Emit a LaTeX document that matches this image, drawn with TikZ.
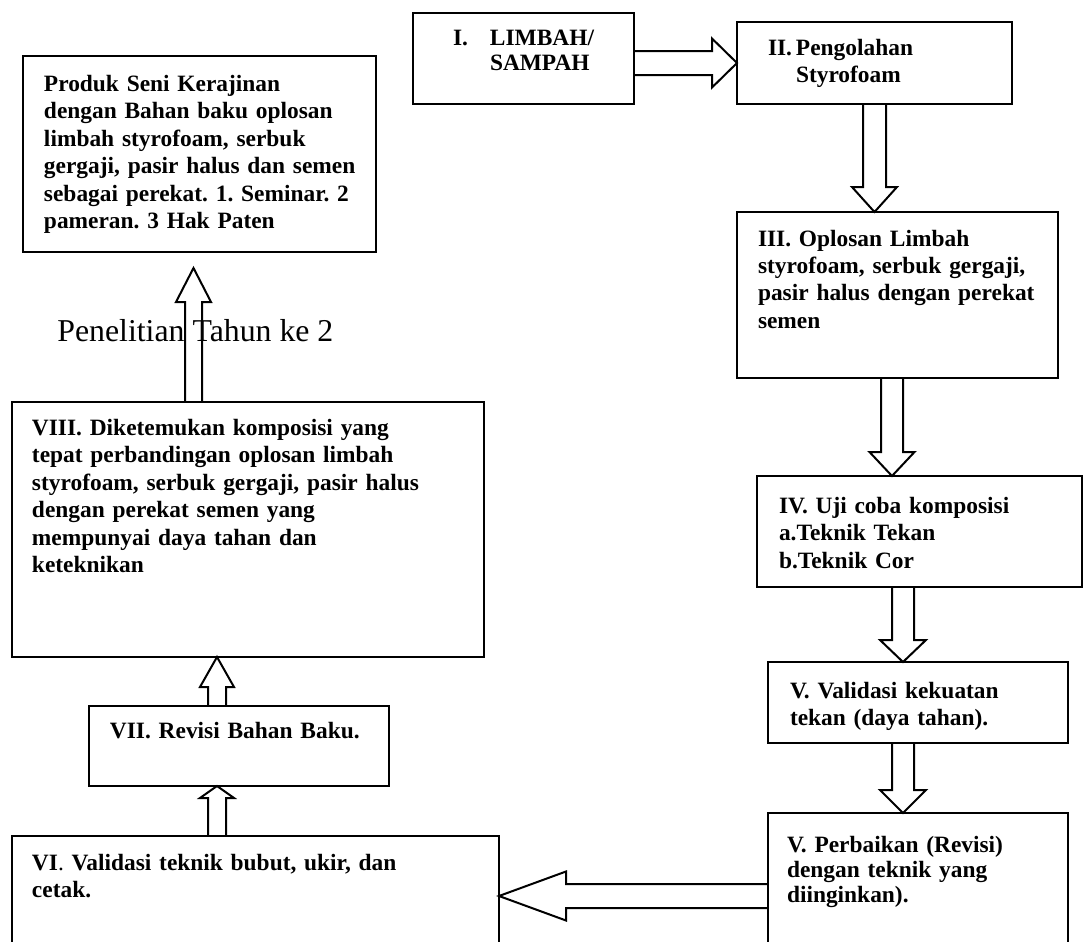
\documentclass[tikz,border=0pt]{standalone}
\usepackage{fontspec}
\setmainfont{Liberation Serif}
\usetikzlibrary{calc}

\newcommand{\hollowarrow}[5]{%
	\draw[myarrow] let \p1=#4, \p2=#5,
		\n1={veclen(\x2-\x1,\y2-\y1)}, \n2={atan2(\y2-\y1,\x2-\x1)} in
		[shift={(\p1)}, rotate=\n2]
		(0pt,{-#1/4*1pt}) -- ({(\n1-#3/2)*1pt},{-#1/4*1pt}) -- ({(\n1-#3/2)*1pt},{-#2/4*1pt})
		-- ({\n1*1pt},0pt) -- ({(\n1-#3/2)*1pt},{#2/4*1pt}) -- ({(\n1-#3/2)*1pt},{#1/4*1pt})
		-- (0pt,{#1/4*1pt});
}

\begin{document}
\begin{tikzpicture}[x=0.5pt, y=-0.5pt,
			mybox/.style={draw, line width=1pt, anchor=north west, inner ysep=0pt, outer sep=0pt, align=left,
				font=\fontsize{11.7pt}{13.75pt}\selectfont\bfseries\frenchspacing},
			myarrow/.style={line width=1pt, line join=miter}
		]
		\useasboundingbox (0,0) rectangle (1084,942);
		\clip (0,0) rectangle (1084,942);

		\node[mybox, inner xsep=20pt, text width=70.5pt, text height=16.5pt, text depth=29pt] (limbah) at (413,13)
			{\makebox[18.5pt][l]{I.}LIMBAH/\\[-1.25pt]\hspace*{18.5pt}SAMPAH};
		\node[mybox, inner xsep=15.5pt, text width=106.5pt, text height=16.5pt, text depth=24.5pt] (olah) at (737,22)
			{\makebox[14pt][l]{II.}Pengolahan\\\hspace*{14pt}Styrofoam};
		\node[mybox, inner xsep=10.5pt, text width=139.5pt, text height=17pt, text depth=66pt] (oplos) at (737,212)
			{III. Oplosan Limbah\\styrofoam, serbuk gergaji,\\pasir halus dengan perekat\\semen};
		\node[mybox, inner xsep=11pt, text width=140.5pt, text height=18.5pt, text depth=37pt] (uji) at (757,476)
			{IV. Uji coba komposisi\\a.Teknik Tekan\\b.Teknik Cor};
		\node[mybox, inner xsep=11pt, text width=128pt, text height=18pt, text depth=22.5pt] (validasi) at (768,662)
			{V. Validasi kekuatan\\tekan (daya tahan).};
		\node[mybox, inner xsep=9.5pt, text width=131pt, text height=19.5pt, text depth=80.5pt,
			font=\fontsize{11.7pt}{12.5pt}\selectfont\bfseries\frenchspacing] (perbaikan) at (768,813)
			{V. Perbaikan (Revisi)\\dengan teknik yang\\diinginkan).};
		\node[mybox, inner xsep=10pt, text width=223.5pt, text height=17pt, text depth=83pt] (bubut) at (12,836)
			{VI{\mdseries .} Validasi teknik bubut, ukir, dan\\cetak.};
		\node[mybox, inner xsep=10.5pt, text width=129pt, text height=16pt, text depth=24pt] (revisi) at (89,706)
			{VII. Revisi Bahan Baku.};
		\node[mybox, inner xsep=10pt, text width=216pt, text height=16.5pt, text depth=111pt] (temuan) at (12,402)
			{VIII. Diketemukan komposisi yang\\tepat perbandingan oplosan limbah\\styrofoam, serbuk gergaji, pasir halus\\dengan perekat semen yang\\mempunyai daya tahan dan\\keteknikan};
		\node[mybox, inner xsep=10.5pt, text width=155.5pt, text height=17.5pt, text depth=80.5pt] (produk) at (23,56)
			{Produk Seni Kerajinan\\dengan Bahan baku oplosan\\limbah styrofoam, serbuk\\\mbox{gergaji, pasir halus dan semen}\\\mbox{sebagai perekat. 1. Seminar. 2}\\pameran. 3 Hak Paten};

		\node[anchor=base west, inner sep=0pt, font=\fontsize{15.9pt}{18pt}\selectfont] (tahun) at (57,341) {Penelitian Tahun ke 2};

		\hollowarrow{24}{49}{25}{($(limbah.east)+(0,4.5)$)}{(olah.west)}
		\hollowarrow{23}{45}{25}{(olah.south)}{(olah.south |- oplos.north)}
		\hollowarrow{22}{45}{24}{($(oplos.south)+(-5.5,0)$)}{($(uji.north)+(-27.5,0)$)}
		\hollowarrow{22}{46}{22}{($(uji.south)+(-16.5,0)$)}{($(validasi.north)+(-15,0)$)}
		\hollowarrow{22}{46}{23}{($(validasi.south)+(-15,0)$)}{($(perbaikan.north)+(-15,0)$)}
		\hollowarrow{24}{49}{67}{($(perbaikan.north west)+(0,83)$)}{($(bubut.north east)+(0,60)$)}
		\hollowarrow{18}{34}{12}{($(bubut.north)+(-38.5,0)$)}{($(revisi.south)+(-22,0)$)}
		\hollowarrow{18}{34}{30}{($(revisi.north)+(-22,0)$)}{($(temuan.south)+(-31,0)$)}
		\hollowarrow{17}{35}{34}{($(temuan.north)+(-54.5,0)$)}{($(produk.south)+(-6,16)$)}

	\end{tikzpicture}
\end{document}
